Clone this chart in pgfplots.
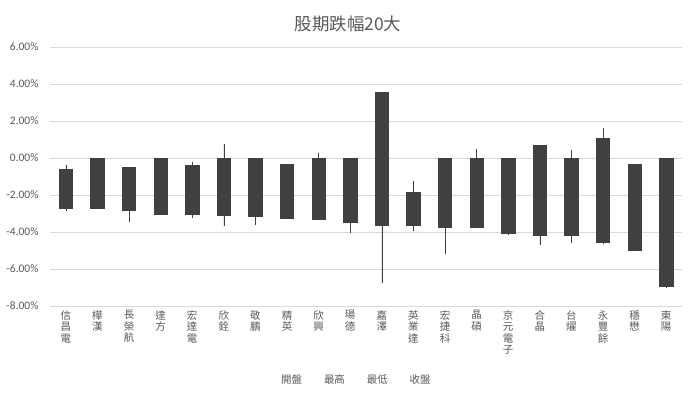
\documentclass[border=0pt]{standalone}
\usepackage{pgfplots}
\usepackage{pgfplotstable}
\pgfplotsset{compat=1.18}
\usepgfplotslibrary{statistics}
\usepackage{fontspec}
\setmainfont{Carlito}
\newfontfamily\cjk{Noto Sans CJK TC}
\definecolor{boxc}{HTML}{404040}
\definecolor{gridc}{HTML}{D9D9D9}
\definecolor{txtc}{HTML}{595959}
\pgfplotstableread{
open high low close
-0.59 -0.36 -2.88 -2.70
0.00 0.00 -2.70 -2.70
-0.49 -0.49 -3.48 -2.81
0.00 0.00 -3.03 -3.03
-0.38 -0.22 -3.24 -3.03
0.00 0.77 -3.69 -3.08
0.00 0.00 -3.60 -3.15
-0.32 -0.32 -3.24 -3.24
0.00 0.27 -3.30 -3.30
0.00 0.00 -4.05 -3.46
3.57 3.57 -6.76 -3.64
-1.84 -1.26 -3.96 -3.64
0.00 0.00 -5.19 -3.73
0.00 0.50 -3.73 -3.73
0.00 0.00 -4.18 -4.05
0.70 0.70 -4.70 -4.18
0.00 0.45 -4.59 -4.18
1.05 1.62 -4.65 -4.54
-0.32 -0.32 -4.97 -4.97
0.00 0.00 -7.03 -6.94
}\data
\begin{document}
\begin{tikzpicture}
\useasboundingbox (0,0) rectangle (699bp,397bp);
\begin{axis}[
  at={(50bp,91bp)}, anchor=south west,
  scale only axis, width=632bp, height=259bp,
  xmin=-0.5, xmax=19.5, ymin=-8, ymax=6,
  ytick={-8,-6,...,6},
  xtick={0,...,19},
  xticklabels={{信\\昌\\電},{樺\\漢},{長\\榮\\航},{達\\方},{宏\\達\\電},{欣\\銓},{敬\\鵬},{精\\英},{欣\\興},{瑒\\德},{嘉\\澤},{英\\業\\達},{宏\\捷\\科},{晶\\碩},{京\\元\\電\\子},{合\\晶},{台\\燿},{永\\豐\\餘},{穩\\懋},{東\\陽}},
  xticklabel style={font=\cjk\fontsize{10.5}{11.5}\selectfont, align=center, anchor=north, text=txtc, yshift=-1bp},
  yticklabel={\pgfmathprintnumber[fixed,fixed zerofill,precision=2]{\tick}\%},
  yticklabel style={font=\fontsize{11.5}{13}\selectfont, text=txtc, xshift=-8bp},
  /pgf/number format/assume math mode=true,
  ymajorgrids, major grid style={gridc, line width=0.75pt},
  axis line style={draw=none},
  major tick length=0pt,
  boxplot/draw direction=y,
  title={\cjk 股期跌幅20大},
  title style={font=\fontsize{17.5}{20}\selectfont, text=txtc, xshift=-18bp, yshift=6bp},
  legend style={at={(0.484,-0.286)}, anchor=center, draw=none, fill=none,
    font=\cjk\fontsize{10.5}{12}\selectfont, text=txtc},
  legend columns=4,
  legend cell align=left,
  /tikz/every even column/.append style={column sep=18pt},
]
\addlegendimage{empty legend}\addlegendentry{開盤}
\addlegendimage{empty legend}\addlegendentry{最高}
\addlegendimage{empty legend}\addlegendentry{最低}
\addlegendimage{empty legend}\addlegendentry{收盤}
\pgfplotsinvokeforeach{0,...,19}{
  \pgfplotstablegetelem{#1}{open}\of\data \let\vo\pgfplotsretval
  \pgfplotstablegetelem{#1}{high}\of\data \let\vh\pgfplotsretval
  \pgfplotstablegetelem{#1}{low}\of\data \let\vl\pgfplotsretval
  \pgfplotstablegetelem{#1}{close}\of\data \let\vc\pgfplotsretval
  \edef\tmp{\noexpand\addplot[draw=boxc, fill=boxc, line width=0.6pt,
    boxplot prepared={draw direction=y, draw position=#1, lower whisker=\vl, upper whisker=\vh,
      lower quartile=\vc, upper quartile=\vo, median=\vc,
      box extend=0.42, whisker extend=0}]
    coordinates {};}
  \tmp
}
\end{axis}
\end{tikzpicture}
\end{document}
